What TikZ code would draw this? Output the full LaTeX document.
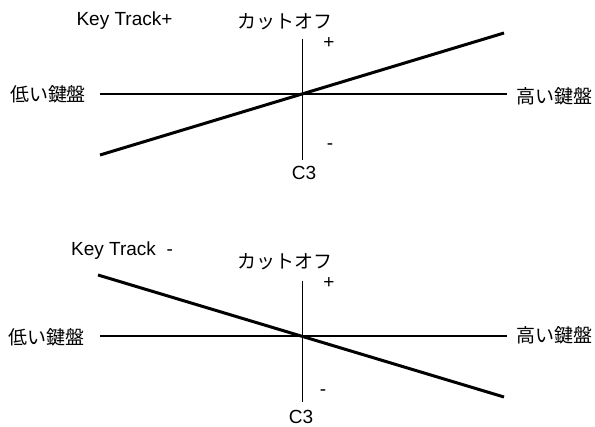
\documentclass[tikz,border=0pt]{standalone}
\usepackage{fontspec}
\setmainfont{Liberation Sans}
\newfontfamily\jp{Noto Sans CJK JP}
\begin{document}
\begin{tikzpicture}[x=1pt,y=-1pt,
  lbl/.style={inner sep=0pt,font=\fontsize{19}{22}\selectfont},
  jlbl/.style={inner sep=0pt,font=\fontsize{19}{22}\selectfont\jp},
  axis/.style={line width=1.3pt},
  curve/.style={line width=3pt}]
\useasboundingbox (0,0) rectangle (595,427);
% ---------- top diagram ----------
\coordinate (hl1) at (100,94);
\coordinate (hr1) at (507,94);
\coordinate (vt1) at (302.5,39);
\coordinate (vb1) at (302.5,160);
\coordinate (cs1) at (100,155);
\coordinate (ce1) at (504,33);
\draw[axis] (hl1) -- (hr1);
\draw[axis] (vt1) -- (vb1);
\draw[curve] (cs1) -- (ce1);
\node[lbl,anchor=base] (kt1) at (124.5,26) {Key Track+};
\node[jlbl] (co1) at (285,21.5) {カットオフ};
\node[lbl] (p1) at (329,43) {+};
\node[lbl] (m1) at (330,147) {-};
\node[lbl,anchor=base] (c31) at (304,180) {C3};
\node[jlbl] (lo1) at (48,94) {低い鍵盤};
\node[jlbl] (hi1) at (554,96) {高い鍵盤};
% ---------- bottom diagram ----------
\coordinate (hl2) at (100,336);
\coordinate (hr2) at (507,336);
\coordinate (vt2) at (302.5,281);
\coordinate (vb2) at (302.5,402);
\coordinate (cs2) at (98,275);
\coordinate (ce2) at (504,397);
\draw[axis] (hl2) -- (hr2);
\draw[axis] (vt2) -- (vb2);
\draw[curve] (cs2) -- (ce2);
\node[lbl,anchor=base] (kt2) at (122,256) {Key Track\ \ -};
\node[jlbl] (co2) at (285,261.5) {カットオフ};
\node[lbl] (p2) at (329,283) {+};
\node[lbl] (m2) at (323,393) {-};
\node[lbl,anchor=base] (c32) at (301,423.5) {C3};
\node[jlbl] (lo2) at (47,337) {低い鍵盤};
\node[jlbl] (hi2) at (554,335) {高い鍵盤};
\end{tikzpicture}
\end{document}
